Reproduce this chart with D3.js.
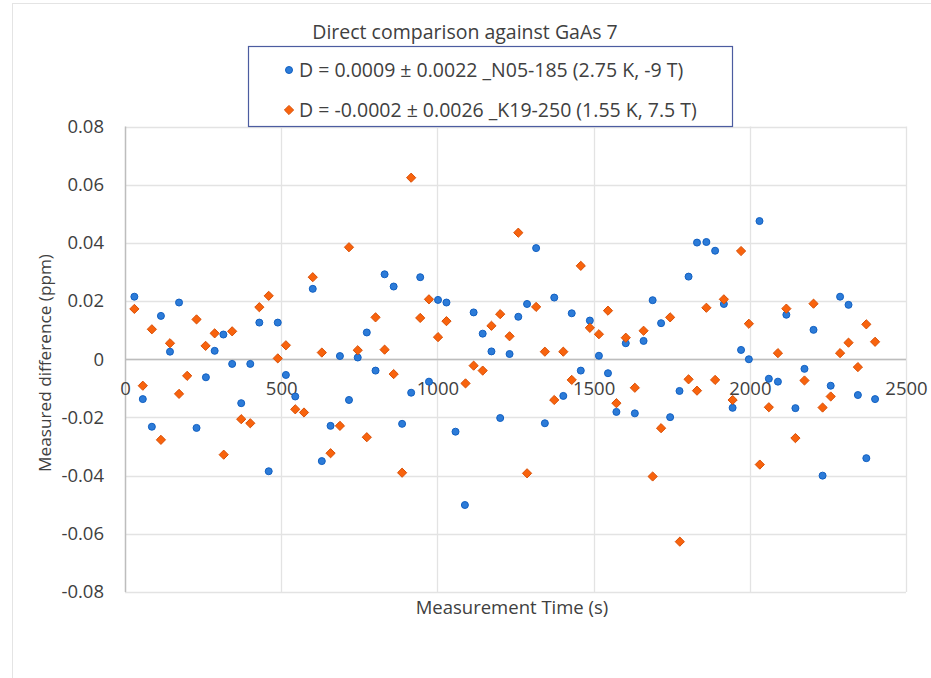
<!DOCTYPE html>
<html>
<head>
<meta charset="utf-8">
<script src="https://cdn.jsdelivr.net/npm/d3@7"></script>
<style>
  body { margin: 0; background: #fff; }
  svg text { font-family: "Open Sans", "Noto Sans", sans-serif; fill: #404040; }
</style>
</head>
<body>
<div id="chart"></div>
<script>
var blueTime = [30, 57, 86, 115, 144, 173, 229, 259, 287, 315, 343, 372, 401, 430, 460, 489, 515, 545,
  601, 630, 658, 688, 717, 745, 774, 802, 831, 860, 887, 916, 945, 973, 1002, 1029, 1058, 1088,
  1116, 1145, 1173, 1201, 1231, 1259, 1287, 1316, 1344, 1374, 1403, 1430, 1459, 1488, 1517, 1546,
  1573, 1603, 1632, 1660, 1689, 1716, 1745, 1775, 1804, 1831, 1861, 1889, 1917, 1945, 1972, 1997,
  2031, 2061, 2090, 2117, 2146, 2175, 2204, 2233, 2259, 2289, 2316, 2346, 2373, 2401];
var blueDiff = [0.0215, -0.0137, -0.0232, 0.0149, 0.0026, 0.0195, -0.0236, -0.0062, 0.0029, 0.0085,
  -0.0016, -0.0151, -0.0016, 0.0126, -0.0385, 0.0126, -0.0054, -0.0128,
  0.0242, -0.035, -0.0229, 0.0011, -0.014, 0.0006, 0.0092, -0.0039, 0.0292, 0.025, -0.0222, -0.0115,
  0.0282, -0.0077, 0.0204, 0.0195, -0.0249, -0.0501,
  0.0161, 0.0088, 0.0027, -0.0202, 0.0018, 0.0146, 0.019, 0.0382, -0.022, 0.0212, -0.0126, 0.0158,
  -0.0039, 0.0133, 0.0012, -0.0048,
  -0.0181, 0.0055, -0.0186, 0.0063, 0.0203, 0.0124, -0.0199, -0.0109, 0.0284, 0.0401, 0.0403, 0.0373,
  0.019, -0.0167, 0.0032, 0.0,
  0.0475, -0.0067, -0.0077, 0.0153, -0.0168, -0.0033, 0.0101, -0.04, -0.0091, 0.0215, 0.0187, -0.0123,
  -0.034, -0.0137];

var orangeTime = [30, 57, 86, 115, 144, 173, 199, 229, 258, 287, 316, 343, 372, 401, 430, 460, 489, 515,
  545, 573, 601, 630, 658, 688, 717, 745, 774, 802, 831, 860, 887, 916, 945, 973, 1002, 1029,
  1090, 1116, 1145, 1173, 1201, 1231, 1259, 1287, 1316, 1344, 1374, 1403, 1430, 1459, 1488, 1517,
  1546, 1573, 1603, 1632, 1660, 1689, 1716, 1745, 1776, 1804, 1831, 1861, 1889, 1917, 1945, 1972,
  1997, 2032, 2061, 2090, 2117, 2146, 2175, 2204, 2233, 2259, 2289, 2316, 2346, 2373, 2401];
var orangeDiff = [0.0173, -0.0091, 0.0103, -0.0277, 0.0055, -0.0119, -0.0057, 0.0137, 0.0046, 0.0089,
  -0.0328, 0.0096, -0.0206, -0.022, 0.0179, 0.0218, 0.0003, 0.0048,
  -0.0172, -0.0183, 0.0282, 0.0023, -0.0323, -0.0229, 0.0385, 0.0031, -0.0268, 0.0144, 0.0033, -0.0051,
  -0.039, 0.0624, 0.0142, 0.0206, 0.0076, 0.0131,
  -0.0083, -0.0022, -0.0039, 0.0115, 0.0155, 0.0079, 0.0435, -0.0392, 0.018, 0.0026, -0.014, 0.0026,
  -0.0071, 0.0321, 0.0108, 0.0086,
  0.0167, -0.0151, 0.0074, -0.0098, 0.0098, -0.0403, -0.0237, 0.0144, -0.0627, -0.0069, -0.0108, 0.0177,
  -0.0071, 0.0206, -0.014, 0.0372,
  0.0122, -0.0362, -0.0165, 0.0021, 0.0174, -0.0271, -0.0073, 0.0191, -0.0166, -0.0128, 0.0021, 0.0057,
  -0.0027, 0.012, 0.006];

var xTicks = [0, 500, 1000, 1500, 2000, 2500];
var yTicks = [-0.08, -0.06, -0.04, -0.02, 0, 0.02, 0.04, 0.06, 0.08];
var legendLabels = ["D = 0.0009 \u00b1 0.0022 _N05-185 (2.75 K, -9 T)",
  "D = -0.0002 \u00b1 0.0026 _K19-250 (1.55 K, 7.5 T)"];

var width = 931, height = 678;
var plot = { left: 125, right: 906, top: 126.5, bottom: 592 };

var blueFill = "#2c7bd8", blueStroke = "#1160c2";
var orangeFill = "#f8630d", orangeStroke = "#d94f06";

var svg = d3.select("#chart").append("svg")
  .attr("width", width)
  .attr("height", height);

// faint chart-area border
svg.append("rect")
  .attr("x", 12.5).attr("y", 3.5)
  .attr("width", 940).attr("height", 700)
  .attr("fill", "none")
  .attr("stroke", "#e4e4e4");

var x = d3.scaleLinear().domain([0, 2500]).range([plot.left, plot.right]);
var y = d3.scaleLinear().domain([-0.08, 0.08]).range([plot.bottom, plot.top]);

// gridlines
svg.append("g")
  .selectAll("line")
  .data(yTicks)
  .enter().append("line")
  .attr("x1", plot.left).attr("x2", plot.right)
  .attr("y1", function (d) { return Math.round(y(d)) + 0.5; })
  .attr("y2", function (d) { return Math.round(y(d)) + 0.5; })
  .attr("stroke", "#e3e3e3")
  .attr("stroke-width", 1.3);

svg.append("g")
  .selectAll("line")
  .data(xTicks.slice(1))
  .enter().append("line")
  .attr("y1", plot.top).attr("y2", plot.bottom)
  .attr("x1", function (d) { return Math.round(x(d)) + 0.5; })
  .attr("x2", function (d) { return Math.round(x(d)) + 0.5; })
  .attr("stroke", "#e3e3e3")
  .attr("stroke-width", 1.3);

// left axis and zero line
svg.append("line")
  .attr("x1", plot.left + 0.5).attr("x2", plot.left + 0.5)
  .attr("y1", plot.top).attr("y2", plot.bottom)
  .attr("stroke", "#bdbdbd").attr("stroke-width", 1.5);

svg.append("line")
  .attr("x1", plot.left).attr("x2", plot.right)
  .attr("y1", Math.round(y(0)) + 0.5).attr("y2", Math.round(y(0)) + 0.5)
  .attr("stroke", "#bdbdbd").attr("stroke-width", 1.5);

// y tick labels (plain hyphen minus, as in the original)
var yAxis = d3.axisLeft(y).tickValues(yTicks).tickSize(0).tickPadding(21)
  .tickFormat(function (d) { return d === 0 ? "0" : d.toFixed(2); });
var gy = svg.append("g")
  .attr("transform", "translate(" + plot.left + ",0)")
  .call(yAxis);
gy.select(".domain").remove();
gy.selectAll("text").style("font-size", "18.5px").attr("fill", "#404040");

// x tick labels, sitting under the zero line
var xAxis = d3.axisBottom(x).tickValues(xTicks).tickSize(0)
  .tickFormat(function (d) { return String(d); });
var gx = svg.append("g")
  .attr("transform", "translate(0," + y(0) + ")")
  .call(xAxis);
gx.select(".domain").remove();
gx.selectAll("text")
  .attr("y", 36).attr("dy", null)
  .style("font-size", "18.5px").attr("fill", "#404040");

// points
svg.append("g")
  .selectAll("circle")
  .data(blueTime)
  .enter().append("circle")
  .attr("cx", function (d) { return x(d); })
  .attr("cy", function (d, i) { return y(blueDiff[i]); })
  .attr("r", 3.5)
  .attr("fill", blueFill)
  .attr("stroke", blueStroke)
  .attr("stroke-width", 1);

var diamond = d3.symbol().type(d3.symbolDiamond2).size(54);
svg.append("g")
  .selectAll("path")
  .data(orangeTime)
  .enter().append("path")
  .attr("d", diamond)
  .attr("transform", function (d, i) { return "translate(" + x(d) + "," + y(orangeDiff[i]) + ")"; })
  .attr("fill", orangeFill)
  .attr("stroke", orangeStroke)
  .attr("stroke-width", 1);

// titles
svg.append("text")
  .attr("x", 465).attr("y", 39)
  .attr("text-anchor", "middle")
  .style("font-size", "19.5px")
  .attr("fill", "#262626")
  .text("Direct comparison against GaAs 7");

svg.append("text")
  .attr("x", 512).attr("y", 614)
  .attr("text-anchor", "middle")
  .style("font-size", "18.5px")
  .text("Measurement Time (s)");

svg.append("text")
  .attr("transform", "translate(51,363) rotate(-90)")
  .attr("text-anchor", "middle")
  .style("font-size", "17.2px")
  .text("Measured difference (ppm)");

// legend
var legend = svg.append("g");
legend.append("rect")
  .attr("x", 248.5).attr("y", 46.5)
  .attr("width", 484).attr("height", 80)
  .attr("fill", "#fff")
  .attr("stroke", "#4c5ca0")
  .attr("stroke-width", 1.2);

legend.append("circle")
  .attr("cx", 289).attr("cy", 70)
  .attr("r", 3.5)
  .attr("fill", blueFill).attr("stroke", blueStroke);
legend.append("path")
  .attr("d", diamond)
  .attr("transform", "translate(289,110)")
  .attr("fill", orangeFill).attr("stroke", orangeStroke);

legend.selectAll("text")
  .data(legendLabels)
  .enter().append("text")
  .attr("x", 299)
  .attr("y", function (d, i) { return 77 + i * 40; })
  .style("font-size", "19.5px")
  .attr("fill", "#262626")
  .text(function (d) { return d; });
</script>
</body>
</html>
